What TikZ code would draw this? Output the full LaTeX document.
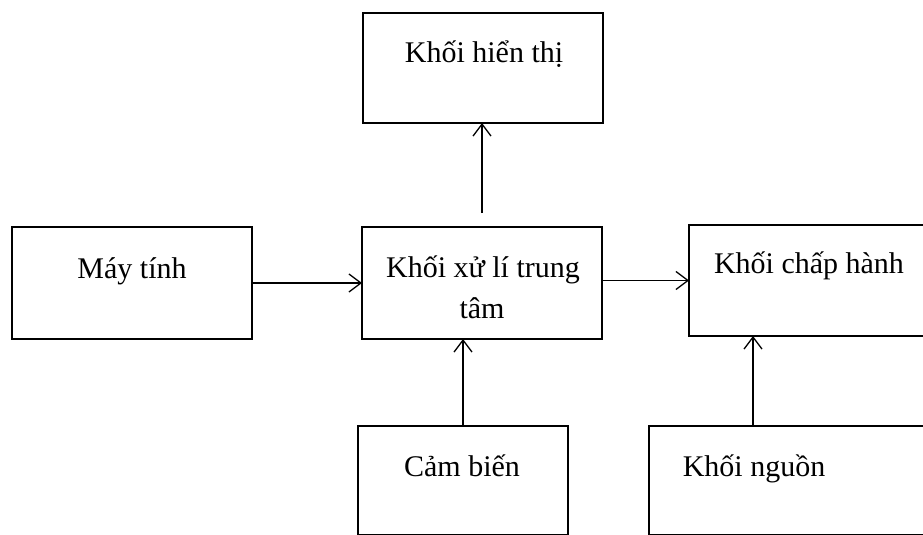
\documentclass[tikz,border=0pt]{standalone}
\usepackage{fontspec}
\setmainfont{Liberation Serif}
\usetikzlibrary{arrows.meta}
\begin{document}
\begin{tikzpicture}[x=1pt,y=-1pt,
  box/.style={draw, line width=1.3pt, inner sep=0pt, outer sep=0pt, anchor=north west},
  lbl/.style={font=\fontsize{30}{36}\selectfont, anchor=base, inner sep=0pt},
  arr/.style={line width=1.3pt, -{Straight Barb[length=12pt,width=18pt,line width=1.3pt]}}]
\useasboundingbox (0,0) rectangle (923,535);
\clip (0,0) rectangle (923,535);
% boxes
\node[box, minimum width=240pt, minimum height=110pt] (disp) at (363,13) {};
\node[box, minimum width=240pt, minimum height=112pt] (may) at (12,227) {};
\node[box, minimum width=240pt, minimum height=112pt] (cpu) at (362,227) {};
\node[box, minimum width=300pt, minimum height=111pt] (chap) at (689,225) {};
\node[box, minimum width=210pt, minimum height=109pt] (cam) at (358,426) {};
\node[box, minimum width=300pt, minimum height=109pt] (nguon) at (649,426) {};
% labels
\node[lbl] (tdisp) at (484,63) {Khối hiển thị};
\node[lbl] (tmay) at (132,278) {Máy tính};
\node[lbl] (tcpu1) at (483,277) {Khối xử lí trung};
\node[lbl] (tcpu2) at (482,318) {tâm};
\node[lbl] (tchap) at (809,273) {Khối chấp hành};
\node[lbl] (tcam) at (462,476) {Cảm biến};
\node[lbl] (tnguon) at (754,476) {Khối nguồn};
% connectors
\draw[arr] (may.east) -- (cpu.west);
\draw[arr, shorten <=14pt] (cpu.north) -- (cpu.north |- disp.south);
\draw[arr] (cpu.east |- chap.west) -- (chap.west);
\draw[arr] (cam.north) -- (cam.north |- cpu.south);
\draw[arr] ([xshift=104pt]nguon.north west) coordinate (na) -- (na |- chap.south);
\end{tikzpicture}
\end{document}
